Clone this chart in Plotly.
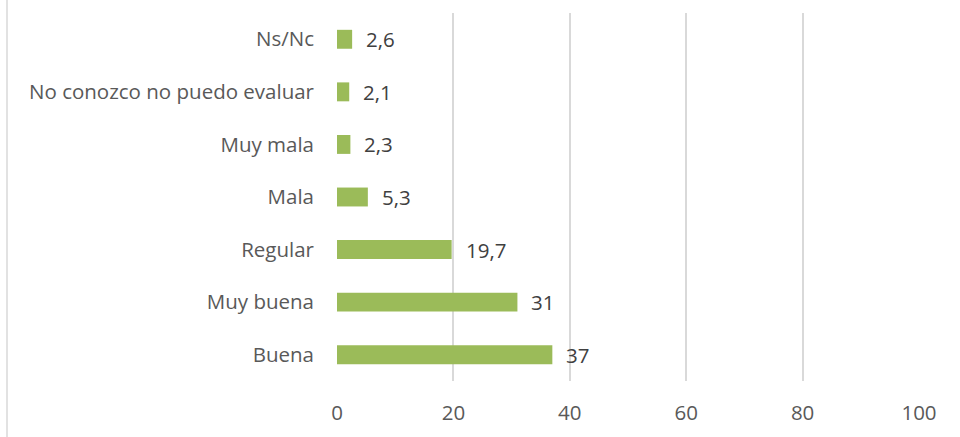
import plotly.graph_objects as go

categories = ["Buena", "Muy buena", "Regular", "Mala", "Muy mala",
              "No conozco no puedo evaluar", "Ns/Nc"]
values = [37, 31, 19.7, 5.3, 2.3, 2.1, 2.6]
labels = ["37", "31", "19,7", "5,3", "2,3", "2,1", "2,6"]
x_ticks = [0, 20, 40, 60, 80, 100]

FONT = "Open Sans"
FS = 20.5

fig = go.Figure()
fig.add_trace(go.Bar(
    x=values, y=categories, orientation="h",
    marker=dict(color="#9BBB59", line=dict(width=0)),
    width=0.36,
    hoverinfo="skip",
))

for v, c, t in zip(values, categories, labels):
    fig.add_annotation(x=v, y=c, text=t, showarrow=False, xanchor="left",
                       xshift=12, font=dict(family=FONT, size=FS, color="#404040"))

fig.update_layout(
    width=960, height=437,
    margin=dict(l=337, r=41, t=13, b=56),
    paper_bgcolor="white", plot_bgcolor="white",
    showlegend=False,
    font=dict(family=FONT, size=FS, color="#595959"),
    xaxis=dict(range=[0, 100], tickvals=x_ticks, showgrid=True,
               gridcolor="#d9d9d9", gridwidth=1.5, zeroline=False,
               showline=False, ticks="", ticklabelstandoff=17,
               tickfont=dict(family=FONT, size=FS, color="#595959")),
    yaxis=dict(categoryorder="array", categoryarray=categories,
               showgrid=False, zeroline=False, showline=False, ticks="",
               ticklabelstandoff=22,
               tickfont=dict(family=FONT, size=FS, color="#595959")),
    shapes=[dict(type="line", xref="paper", yref="paper",
                 x0=-0.567, x1=-0.567, y0=-0.16, y1=1.05,
                 line=dict(color="#d9d9d9", width=1.5))],
)

fig.write_html("out.html", config={"displayModeBar": False},
               post_script="document.body.style.margin='0';")
